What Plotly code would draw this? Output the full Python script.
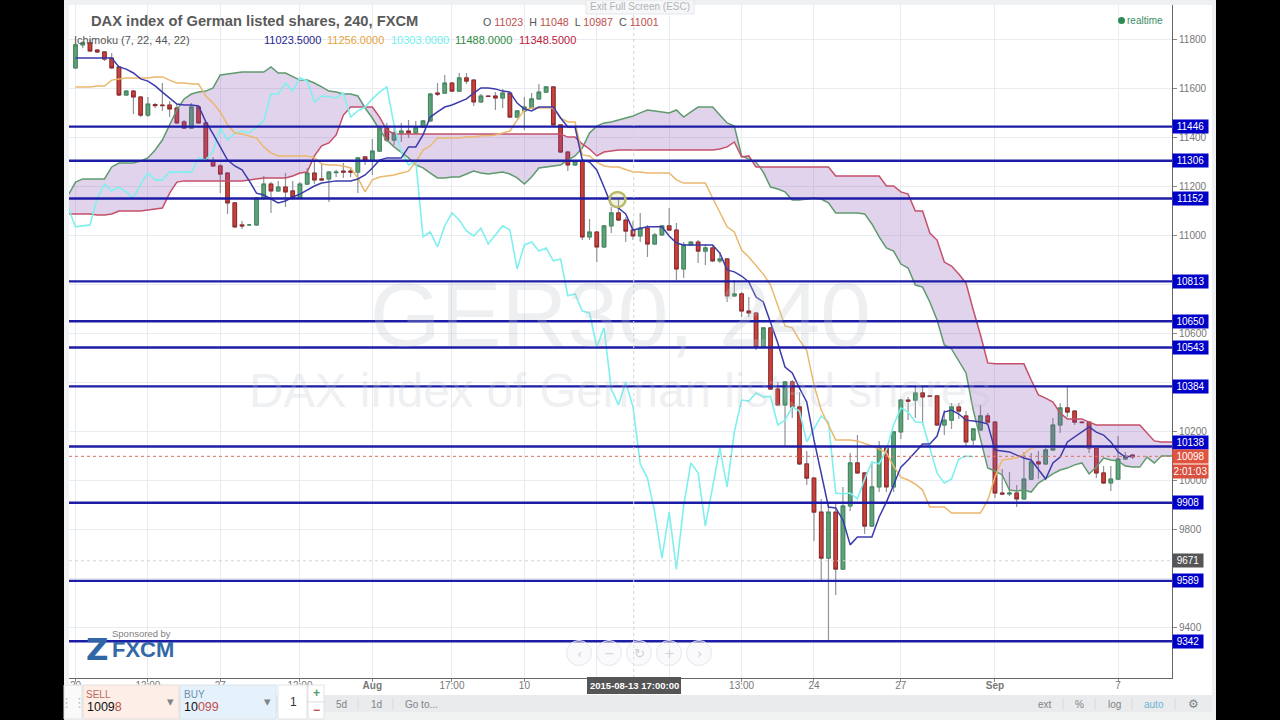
import plotly.graph_objects as go

OPEN = [11686,11780,11788,11759,11751,11726,11690,11575,11591,11567,
11493,11536,11534,11534,11522,11465,11440,11526,11461,11305,
11285,11256,11134,11044,11044,11044,11154,11211,11183,11199,
11183,11154,11211,11256,11232,11232,11258,11264,11264,11260,
11322,11309,11346,11440,11391,11420,11428,11420,11444,11469,
11583,11583,11624,11591,11645,11636,11547,11571,11571,11563,
11583,11485,11510,11522,11559,11587,11608,11453,11342,11289,
11305,10995,11015,10954,11040,11093,11064,11023,10999,11031,
10966,11003,11040,11023,10864,10962,10974,10937,10950,10897,
10905,10754,10762,10692,10684,10545,10623,10373,10308,10402,
10300,10067,10009,9870,9682,9870,9637,9895,10071,10030,
9813,9973,10132,9973,10198,10328,10328,10357,10345,10345,
10226,10246,10300,10263,10165,10206,10263,10238,9948,9944,
9948,9924,10005,10075,10067,10124,10226,10296,10283,10238,
10238,10132,10030,9989,10005,10087,10103]
HIGH = [11788,11796,11800,11763,11755,11747,11694,11596,11596,11571,
11567,11542,11624,11551,11538,11473,11542,11530,11465,11322,
11293,11260,11138,11060,11046,11158,11244,11219,11224,11256,
11224,11219,11277,11309,11297,11264,11269,11297,11281,11322,
11326,11395,11444,11461,11440,11461,11473,11469,11473,11583,
11624,11657,11628,11665,11665,11641,11579,11573,11587,11600,
11587,11514,11567,11583,11620,11612,11612,11457,11346,11309,
11309,11068,11019,11044,11117,11154,11076,11060,11093,11044,
11011,11044,11113,11052,10974,10978,10982,10966,10962,10933,
10909,10819,10770,10749,10688,10627,10627,10402,10406,10410,
10361,10120,10013,9924,9891,9907,9973,10112,10185,10034,
10075,10161,10136,10202,10332,10341,10385,10381,10347,10349,
10287,10316,10316,10283,10214,10308,10275,10242,10046,10034,
9981,10116,10112,10120,10144,10255,10316,10385,10287,10240,
10242,10136,10058,10058,10181,10116,10107]
LOW = [11681,11767,11751,11747,11714,11681,11571,11571,11497,11485,
11485,11522,11510,11485,11457,11436,11436,11457,11305,11281,
11174,11089,11031,11027,11042,11040,11146,11093,11179,11117,
11146,11150,11207,11211,11228,11138,11240,11236,11240,11174,
11289,11248,11342,11383,11371,11383,11399,11416,11440,11465,
11571,11579,11587,11587,11620,11530,11542,11567,11514,11522,
11481,11481,11432,11518,11555,11583,11444,11338,11264,11285,
10982,10982,10892,10950,11011,11060,10974,10982,10974,10913,
10962,10999,11019,10819,10827,10958,10888,10880,10892,10888,
10729,10749,10668,10668,10533,10541,10369,10304,10140,10255,
10063,9981,9752,9592,9343,9531,9633,9874,10026,9780,
9809,9952,9952,9952,10169,10246,10255,10226,10341,10222,
10185,10210,10251,10136,10144,10202,10234,9928,9940,9936,
9891,9919,10001,10005,10063,10120,10193,10259,10226,10234,
10112,10009,9985,9956,10001,10083,10087]
CLOSE = [11780,11788,11755,11751,11722,11686,11575,11591,11567,11493,
11538,11532,11532,11518,11461,11440,11526,11461,11309,11285,
11252,11134,11036,11040,11044,11154,11211,11183,11199,11179,
11154,11211,11256,11228,11228,11260,11260,11260,11260,11318,
11309,11346,11440,11391,11420,11428,11420,11444,11469,11579,
11579,11624,11591,11645,11632,11547,11571,11569,11563,11583,
11485,11510,11526,11559,11587,11608,11453,11342,11289,11305,
10995,11015,10954,11040,11093,11064,11019,10999,11031,10966,
11003,11040,11023,10864,10962,10974,10937,10950,10897,10905,
10754,10762,10692,10684,10545,10623,10373,10308,10402,10300,
10067,10009,9870,9682,9870,9637,9895,10071,10030,9813,
9973,10132,9973,10198,10328,10324,10357,10341,10343,10226,
10246,10300,10283,10157,10210,10263,10238,9948,9944,9948,
9924,10005,10075,10067,10124,10226,10296,10279,10238,10236,
10132,10030,9989,10005,10087,10099,10096]
TENKAN = [11726,11726,11726,11726,11726,11726,11690,11681,11665,11641,11632,11612,11587,11563,11538,11534,11534,11530,
11465,11416,11363,11309,11285,11269,11224,11174,11166,11150,11134,11142,11158,11170,11187,11203,11215,11219,11224,11224,
11224,11232,11248,11277,11309,11318,11318,11318,11363,11363,11412,11485,11506,11526,11534,11547,11559,11583,11604,11604,11600,11591,11587,11542,11518,11510,11526,11526,11526,11481,11444,11444,
11309,11301,11269,11199,11125,11113,11089,11023,11031,11036,11036,11036,10999,10970,10962,10962,10962,10962,10962,10929,10860,10852,10835,10811,10749,10729,10647,10561,10463,10439,10377,10320,10165,10022,9891,9887,9838,9736,9768,9768,9768,9850,9911,9981,10054,10083,10116,10148,10148,10181,10279,10287,10271,10246,10242,10238,10230,10124,10120,10116,10103,10091,10083,10042,10005,10071,10095,10157,10177,10197,10218,10197,10185,10157,10116,10095,10099]
KIJUN = [11608,11608,11608,11612,11612,11636,11641,11645,11645,11645,11645,11649,11649,11636,11624,11624,11620,11620,11571,11542,
11506,11453,11420,11416,11408,11399,11363,11338,11326,11326,11326,11326,11326,11318,11293,11289,11289,11285,11277,11236,
11179,11228,11240,11244,11248,11256,11264,11301,11350,11367,11399,11399,11399,11399,11403,11403,11408,11408,11412,11420,
11428,11473,11514,11522,11522,11522,11522,11481,11465,11465,11330,11326,11301,11285,11281,11281,11269,11260,11260,11256,
11256,11256,11256,11228,11215,11215,11215,11215,11154,11097,11036,11015,10941,10913,10880,10843,10798,10717,10631,10623,
10573,10530,10390,10287,10226,10165,10165,10165,10161,10152,10140,10128,10112,10058,10013,10001,9985,9960,9891,9891,
9891,9866,9866,9866,9866,9866,9919,10013,10083,10087,10091,10107,10132,10136,10136,10136,10136,10136,10136,10136,
10136,10136,10136,10136,10136,10136,10136]
CHIKOU = [11114,11036,11040,11044,11154,11211,11183,11199,11179,
11154,11211,11256,11228,11228,11260,11260,11260,11260,11318,
11309,11346,11440,11391,11420,11428,11420,11444,11469,11579,
11579,11624,11591,11645,11632,11547,11571,11569,11563,11583,
11485,11510,11526,11559,11587,11608,11453,11342,11289,11305,
10995,11015,10954,11040,11093,11064,11019,10999,11031,10966,
11003,11040,11023,10864,10962,10974,10937,10950,10897,10905,
10754,10762,10692,10684,10545,10623,10373,10308,10402,10300,
10067,10009,9870,9682,9870,9637,9895,10071,10030,9813,
9973,10132,9973,10198,10328,10324,10357,10341,10343,10226,
10246,10300,10283,10157,10210,10263,10238,9948,9944,9948,
9924,10005,10075,10067,10124,10226,10296,10279,10238,10236,
10132,10030,9989,10005,10087,10099,10096]
SENKOU_A = [11166,11219,11232,11232,11232,11232,11281,11297,11297,11297,11305,11318,11350,11391,11453,11514,11559,11579,11587,11591,11604,
11657,11661,11665,11669,11669,11669,11669,11690,11665,11665,11649,11636,11636,11624,11608,11591,11587,11579,11579,11571,
11522,11481,11432,11391,11363,11342,11318,11289,11277,11256,11236,11236,11240,11240,11252,11264,11256,11252,11256,11260,
11252,11236,11211,11240,11277,11281,11285,11289,11309,11326,11358,11420,11448,11461,11465,11473,11481,11489,11502,11514,
11510,11506,11502,11514,11485,11506,11526,11526,11526,11493,11461,11448,11326,11313,11301,11260,11199,11191,11179,11146,
11146,11150,11154,11150,11134,11093,11093,11093,11093,11089,11048,10995,10950,10937,10884,10868,10798,10790,10729,10655,
10553,10537,10488,10439,10287,10165,10050,10038,10022,9960,9956,9960,9952,9989,10009,10026,10042,10050,10063,10071,
10026,10054,10091,10083,10079,10058,10054,10054,10095,10071,10099,10099,10099]
SENKOU_B = [11089,11089,11089,11089,11085,11085,11089,11101,11101,11101,11101,11105,11109,11113,11174,11219,11224,11224,11224,11224,11224,
11224,11224,11224,11224,11228,11232,11236,11236,11236,11236,11244,11256,11260,11326,11367,11379,11412,11493,11526,11526,
11526,11526,11485,11432,11416,11416,11416,11416,11416,11416,11416,11416,11416,11416,11416,11416,11416,11416,11416,11416,
11416,11416,11416,11416,11416,11416,11416,11416,11403,11403,11375,11354,11326,11342,11346,11350,11350,11350,11350,11350,
11350,11350,11350,11350,11350,11350,11350,11350,11350,11354,11363,11383,11322,11326,11281,11281,11281,11281,11281,11281,
11281,11281,11281,11281,11281,11244,11244,11244,11244,11244,11244,11244,11203,11203,11179,11170,11101,11101,11011,10982,
10892,10876,10843,10806,10696,10594,10480,10476,10476,10476,10476,10476,10410,10349,10336,10320,10275,10251,10251,10251,
10238,10226,10226,10226,10226,10226,10226,10226,10193,10161,10157,10157,10157]
LEVELS = [11446,11306,11152,10813,10650,10543,10384,10138,9908,9589,9342]
LAST_PRICE = 10098
CURSOR_PRICE = 9671
Y_TICKS = [9400,9600,9800,10000,10200,10400,10600,10800,11000,11200,11400,11600,11800]
Y_LABELS = ["9400","","9800","10000","10200","","10600","","11000","11200","11400","11600","11800"]
X_TICKS = [0,10,20,31,41,52,62,72,82,92,102,114,127,144]
X_LABELS = ["20","12:00","27","12:00","<b>Aug</b>","17:00","10","","","13:00","24","27","<b>Sep</b>","7"]

BARS = list(range(len(CLOSE)))
CHIKOU_X = list(range(-1, len(CHIKOU) - 1))
CLOUD_X = list(range(-1, len(SENKOU_A) - 1))

L, R, T, B = 69, 1172, 5, 678
def px(x): return (x - L) / (R - L)
def py(y): return 1 - (y - T) / (B - T)

FONT = "Liberation Sans"
fig = go.Figure()
cloud = "rgba(140,80,180,0.25)"
fig.add_trace(go.Scatter(x=CLOUD_X, y=SENKOU_A, mode="lines", line=dict(color="#5f9a6e", width=1.5)))
fig.add_trace(go.Scatter(x=CLOUD_X, y=SENKOU_B, mode="lines", line=dict(color="#c4506a", width=1.5),
                         fill="tonexty", fillcolor=cloud))
# wicks in grey
fig.add_trace(go.Candlestick(x=BARS, open=OPEN, high=HIGH, low=LOW, close=CLOSE, whiskerwidth=0,
    increasing=dict(line=dict(color="#8f9498", width=1.2), fillcolor="#8f9498"),
    decreasing=dict(line=dict(color="#8f9498", width=1.2), fillcolor="#8f9498")))
# bodies in colour
fig.add_trace(go.Candlestick(x=BARS, open=OPEN, close=CLOSE,
    high=[max(o, c) for o, c in zip(OPEN, CLOSE)], low=[min(o, c) for o, c in zip(OPEN, CLOSE)], whiskerwidth=0,
    increasing=dict(line=dict(color="#3f8a5c", width=1), fillcolor="#5fa27a"),
    decreasing=dict(line=dict(color="#96252a", width=1), fillcolor="#c8443a")))
fig.add_trace(go.Scatter(x=CHIKOU_X, y=CHIKOU, mode="lines", line=dict(color="#7ff0ee", width=1.6)))
fig.add_trace(go.Scatter(x=BARS, y=KIJUN, mode="lines", line=dict(color="#eab86e", width=1.5)))
fig.add_trace(go.Scatter(x=BARS, y=TENKAN, mode="lines", line=dict(color="#3b3bab", width=1.5)))

shapes, ann = [], []
def rect(x0, y0, x1, y1, fill, layer="above", line=None, w=0):
    shapes.append(dict(type="rect", xref="paper", yref="paper", x0=px(x0), x1=px(x1), y0=py(y0), y1=py(y1),
                       fillcolor=fill, layer=layer, line=dict(color=line or fill, width=w)))
def text(t, x, y, size=11, color="#555", anchor="left", family=FONT, **kw):
    if anchor == "left":
        x -= 2
    ann.append(dict(text=t, x=px(x), y=py(y), xref="paper", yref="paper", xanchor=anchor, yanchor="middle",
                    showarrow=False, font=dict(size=size, color=color, family=family), **kw))

# page frame
rect(64, 0, 1216, 720, "#ffffff", "below")
rect(64, 0, 1216, 5, "#eef0f1", "above")
rect(64, 5, 69, 684, "#f0f2f3", "above")
rect(1212, 0, 1216, 720, "#eef0f1", "above")

# level lines
for lv in LEVELS:
    shapes.append(dict(type="line", xref="paper", yref="y", x0=0, x1=1, y0=lv, y1=lv,
                       line=dict(color="#1c1ca6", width=2.4), layer="above"))
# last price and cursor lines
shapes.append(dict(type="line", xref="paper", yref="y", x0=0, x1=1, y0=LAST_PRICE, y1=LAST_PRICE,
                   line=dict(color="#d9705c", width=1, dash="dot"), layer="above"))
shapes.append(dict(type="line", xref="paper", yref="y", x0=0, x1=1, y0=CURSOR_PRICE, y1=CURSOR_PRICE,
                   line=dict(color="#d4d4d4", width=1, dash="dot"), layer="above"))
shapes.append(dict(type="line", xref="x", yref="paper", x0=77.1, x1=77.1, y0=0, y1=1,
                   line=dict(color="#d4d4d4", width=1, dash="dot"), layer="above"))
# highlighted ellipse
shapes.append(dict(type="circle", xref="paper", yref="paper", x0=px(609.5), x1=px(625.5), y0=py(192), y1=py(207),
                   line=dict(color="#b8ba68", width=2.5), fillcolor="rgba(190,190,100,0.18)", layer="above"))

# watermark
text("GER30, 240", 620, 315, 91, "rgba(190,195,205,0.27)", "center")
text("DAX index of German listed shares", 620, 390, 47.5, "rgba(190,195,205,0.27)", "center")

# header
text("<b>DAX index of German listed shares, 240, FXCM</b>", 91, 21, 14.7, "#5a5a5a")
ohlc = ('O <span style="color:#c0504d">11023</span>&nbsp;&nbsp;H <span style="color:#c0504d">11048</span>'
        '&nbsp;&nbsp;L <span style="color:#c0504d">10987</span>&nbsp;&nbsp;C <span style="color:#c0504d">11001</span>')
text(ohlc, 483, 22, 10.7, "#555555")
text("Ichimoku (7, 22, 44, 22)", 74, 39.5, 11, "#555555")
for t, x, c in [("11023.5000", 264, "#23238e"), ("11256.0000", 327, "#e8a33c"), ("10303.0000", 391, "#6ff0f0"),
                ("11488.0000", 455, "#2e8b3e"), ("11348.5000", 519, "#b8203c")]:
    text(t, x, 39.5, 11, c)
rect(586, 0, 694, 14, "#f6f7f8", "above", "#e4e6e8", 1)
text("Exit Full Screen (ESC)", 640, 7, 10, "#b0b4b8", "center")
shapes.append(dict(type="circle", xref="paper", yref="paper", x0=px(1118), x1=px(1125), y0=py(17), y1=py(24),
                   fillcolor="#2e8b57", line=dict(width=0), layer="above"))
text("realtime", 1127, 20, 10, "#3c8c66")

# zoom buttons
for x, g in [(579, "‹"), (609, "−"), (639, "↻"), (669, "+"), (699, "›")]:
    shapes.append(dict(type="circle", xref="paper", yref="paper", x0=px(x - 12.5), x1=px(x + 12.5), y0=py(640.5), y1=py(665.5),
                       fillcolor="rgba(240,242,245,0.35)", line=dict(color="#e6e7ec", width=1), layer="above"))
    text(g, x, 653, 13, "#d0d2d8", "center", "DejaVu Sans")

# sponsor
text("Sponsored by", 141, 633, 9.5, "#808080", "center", height=12)
text("<b>FXCM</b>", 112, 649, 22, "#3469a8", height=17)
text("<b>Z</b>", 97, 649, 31, "#2f66a5", "center", "DejaVu Sans", height=24)

# price labels
def price_label(t, y_val, bg, yref="y"):
    ann.append(dict(text=t, x=px(1172), y=y_val, xref="paper", yref=yref, xanchor="left", yanchor="middle",
                    showarrow=False, bgcolor=bg, width=35 if len(t) > 4 else 30, height=13, borderpad=0,
                    font=dict(size=10, color="#ffffff", family=FONT)))
for lv in LEVELS:
    if lv == 10138:
        price_label(str(lv), py(442.5), "#0000c8", "paper")
    else:
        price_label(str(lv), lv, "#0000c8")
price_label(str(LAST_PRICE), LAST_PRICE, "#e2543f")
price_label(str(CURSOR_PRICE), CURSOR_PRICE, "#555555")
price_label("2:01:03", py(471), "#d9503f", "paper")

# crosshair date
rect(587, 677, 681, 694, "#555555", "above")
text("<b>2015-08-13 17:00:00</b>", 634, 685.5, 9.5, "#ffffff", "center")

# bottom toolbar
rect(64, 695, 1212, 712, "#e9ebec", "above")
rect(64, 712, 1212, 720, "#f1f3f3", "above")
for x, t in [(341, "5d"), (376, "1d"), (421, "Go to...")]:
    text(t, x, 704, 10, "#808488", "center")
for x, t, c in [(1045, "ext", "#808488"), (1079, "%", "#808488"), (1114, "log", "#808488"), (1154, "auto", "#6cb4d8")]:
    text(t, x, 704, 10, c, "center")
text("⚙", 1193, 704, 12, "#808488", "center", "DejaVu Sans")
for x in [358, 393, 1063, 1095, 1132, 1175]:
    shapes.append(dict(type="line", xref="paper", yref="paper", x0=px(x), x1=px(x), y0=py(698), y1=py(710),
                       line=dict(color="#d8dadc", width=1), layer="above"))

# order panel
rect(64, 685, 82, 719, "#fafafa", "above", "#e0e2e4", 1)
rect(83, 685, 179, 719, "#fdeee8", "above", "#e6dcd8", 1)
rect(180, 685, 276, 719, "#e6f2fb", "above", "#d8e2ea", 1)
rect(278, 685, 307, 719, "#ffffff", "above", "#e0e2e4", 1)
rect(308, 685, 324, 702, "#ffffff", "above", "#e0e2e4", 1)
rect(308, 702, 324, 719, "#ffffff", "above", "#e0e2e4", 1)
text("⋮⋮", 73, 702, 13, "#b8bcc0", "center", "DejaVu Sans")
text("SELL", 86, 694, 10, "#c0675c")
text('1009<span style="color:#c0504d">8</span>', 87, 706.5, 12.5, "#111111")
text("BUY", 184, 694, 10, "#6b8fb0")
text('10<span style="color:#c0504d">099</span>', 184, 706.5, 12.5, "#111111")
text("▾", 170, 701, 13, "#808488", "center", "DejaVu Sans")
text("▾", 267, 701, 13, "#808488", "center", "DejaVu Sans")
text("1", 293, 702, 12, "#333333", "center")
text("<b>+</b>", 316, 693, 12, "#4f9a6e", "center")
text("<b>−</b>", 316, 710, 12, "#c0504d", "center")

fig.update_layout(
    width=1280, height=720, margin=dict(l=L, r=1280 - R, t=T, b=720 - B, autoexpand=False),
    paper_bgcolor="#000000", plot_bgcolor="#ffffff", showlegend=False, hovermode=False,
    font=dict(family=FONT, size=10, color="#666666"),
    shapes=shapes, annotations=ann,
    xaxis=dict(range=[-0.898, 151.45], tickmode="array", tickvals=X_TICKS, ticktext=X_LABELS, rangeslider=dict(visible=False),
               showgrid=True, gridcolor="#e8ebef", gridwidth=1, zeroline=False, showline=True, linecolor="#666666", linewidth=1,
               ticks="outside", ticklen=3, tickcolor="#888888", tickfont=dict(size=10, color="#777777"), side="bottom",
               ticklabelstandoff=-5),
    yaxis=dict(range=[9191.8, 11943], side="right", tickmode="array", tickvals=Y_TICKS, ticktext=Y_LABELS, showgrid=True, gridcolor="#e8ebef",
               zeroline=False, showline=True, linecolor="#666666", linewidth=1, ticks="outside", ticklen=4, tickcolor="#888888",
               tickfont=dict(size=10, color="#777777")),
)
fig.write_html("out.html", config={"displayModeBar": False},
               post_script="document.body.style.margin='0';document.body.style.background='#000';")
